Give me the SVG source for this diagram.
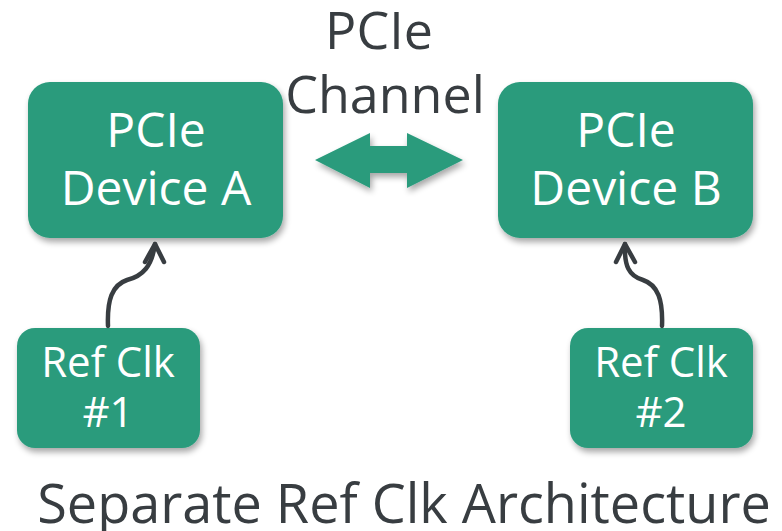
<svg xmlns="http://www.w3.org/2000/svg" width="782" height="531" viewBox="0 0 782 531">
<defs>
<filter id="sh" x="-10%" y="-10%" width="125%" height="130%">
<feGaussianBlur in="SourceAlpha" stdDeviation="3"/>
<feOffset dx="2" dy="4" result="b"/>
<feComponentTransfer><feFuncA type="linear" slope="0.35"/></feComponentTransfer>
<feMerge><feMergeNode/><feMergeNode in="SourceGraphic"/></feMerge>
</filter>
</defs>
<style>
.box{fill:#2a9b7c;filter:url(#sh)}
.wt{fill:#ffffff;font-family:"Open Sans","Noto Sans",sans-serif;text-anchor:middle}
.dk{fill:#383d41;font-family:"Open Sans","Noto Sans",sans-serif;text-anchor:middle}
.con{fill:none;stroke:#383d41;stroke-width:4.5;stroke-linecap:round;stroke-linejoin:round}
</style>
<rect width="782" height="531" fill="#ffffff"/>
<g id="devA">
<rect class="box" x="28" y="82" width="255" height="156" rx="22"/>
<text class="wt" x="156" y="147" font-size="48">PCIe</text>
<text class="wt" x="156" y="205" font-size="48">Device A</text>
</g>
<g id="devB">
<rect class="box" x="498" y="82" width="255" height="156" rx="22"/>
<text class="wt" x="626" y="147" font-size="48">PCIe</text>
<text class="wt" x="626" y="205" font-size="48">Device B</text>
</g>
<g id="clk1">
<rect class="box" x="17" y="328" width="183" height="120" rx="18"/>
<text class="wt" x="108" y="377" font-size="42">Ref Clk</text>
<text class="wt" x="108" y="427" font-size="42">#1</text>
</g>
<g id="clk2">
<rect class="box" x="570" y="328" width="183" height="120" rx="18"/>
<text class="wt" x="661" y="377" font-size="42">Ref Clk</text>
<text class="wt" x="661" y="427" font-size="42">#2</text>
</g>
<g id="channel">
<polygon class="box" points="315,160 370,133 370,146 407,146 407,133 463,160 407,188 407,173 370,173 370,188"/>
<text class="dk" x="379" y="49" font-size="52">PCIe</text>
<text class="dk" x="385" y="113" font-size="52">Channel</text>
</g>
<g id="connectors">
<path class="con" d="M108,326 C107,300 112,285 127,280 C143,276 152,266 155,244"/>
<polyline class="con" points="145,262 155,244 164,262"/>
<path class="con" d="M662,326 C663,300 658,285 643,280 C629,276 624,266 625,244"/>
<polyline class="con" points="616,262 625,244 635,262"/>
</g>
<text class="dk" x="404" y="523" font-size="54">Separate Ref Clk Architecture</text>
</svg>
